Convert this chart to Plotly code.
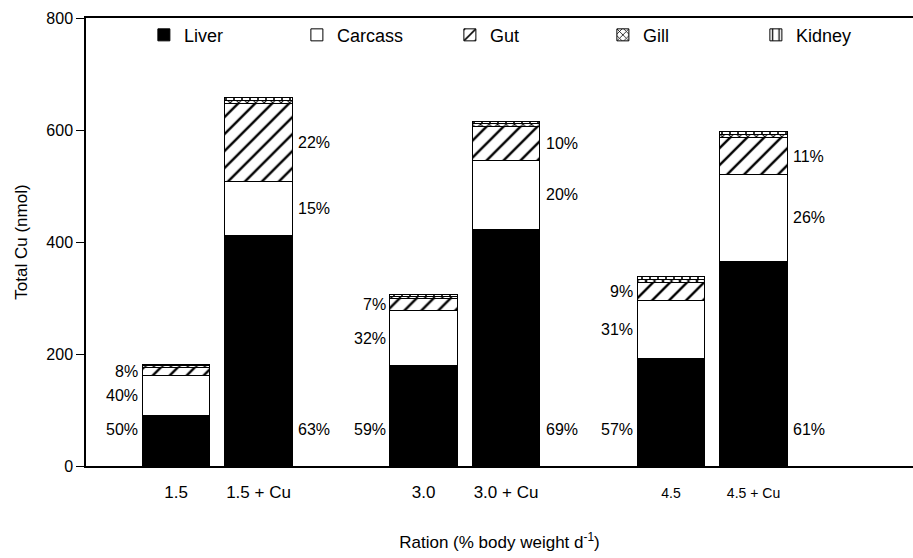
import plotly.graph_objects as go

# ---- data ----
groups = ["1.5", "3.0", "4.5"]
treatments = ["", " + Cu"]
tick_labels = ["1.5", "1.5 + Cu", "3.0", "3.0 + Cu", "4.5", "4.5 + Cu"]
liver = [90, 412, 180, 422, 192, 366]
carcass = [72, 96, 97, 124, 104, 154]
gut = [14, 140, 22, 60, 32, 66]
gill = [3, 5, 4, 5, 5, 6]
kidney = [3, 5, 4, 5, 5, 6]
pct_liver = ["50%", "63%", "59%", "69%", "57%", "61%"]
pct_carcass = ["40%", "15%", "32%", "20%", "31%", "26%"]
pct_gut = ["8%", "22%", "7%", "10%", "9%", "11%"]

FONT = "Liberation Sans, Arial, sans-serif"
# bar positions: pairs within a group, groups separated by a gap
xpos = [g * 3 + t for g in range(len(groups)) for t in range(len(treatments))]
BW = 0.82

fig = go.Figure()
series = [
    ("Liver", liver, dict(color="black", line=dict(color="black", width=1))),
    ("Carcass", carcass, dict(color="white", line=dict(color="black", width=1))),
    ("Gut", gut, dict(color="white", line=dict(color="black", width=1),
                      pattern=dict(shape="/", fgcolor="black", bgcolor="white", size=12,
                                   solidity=0.2, fgopacity=1))),
    ("Gill", gill, dict(color="white", line=dict(color="black", width=1),
                        pattern=dict(shape="x", fgcolor="black", bgcolor="white", size=6,
                                     solidity=0.3, fgopacity=1))),
    ("Kidney", kidney, dict(color="white", line=dict(color="black", width=1),
                            pattern=dict(shape="|", fgcolor="black", bgcolor="white", size=8,
                                         solidity=0.2, fgopacity=1))),
]
for name, vals, marker in series:
    fig.add_trace(go.Bar(x=xpos, y=vals, name=name, width=BW, marker=marker))

# percentage annotations
for i, x in enumerate(xpos):
    is_cu = (i % 2 == 1)
    edge = x + BW / 2 if is_cu else x - BW / 2
    anchor = "left" if is_cu else "right"
    shift = 4 if is_cu else -2
    ys = [
        (65, pct_liver[i]),
        (liver[i] + carcass[i] / 2, pct_carcass[i]),
        (liver[i] + carcass[i] + gut[i] / 2, pct_gut[i]),
    ]
    for yv, txt in ys:
        fig.add_annotation(x=edge, y=yv, text=txt, showarrow=False, xanchor=anchor,
                           xshift=shift, font=dict(family=FONT, size=16, color="black"))

ticktext = []
for i, t in enumerate(tick_labels):
    if i >= 4:
        ticktext.append(f"<span style='font-size:14px'>{t}</span>")
    else:
        ticktext.append(t)

fig.update_layout(
    barmode="stack",
    width=913, height=558,
    margin=dict(l=86, r=0, t=18, b=92),
    paper_bgcolor="white", plot_bgcolor="white",
    font=dict(family=FONT, size=16, color="black"),
    showlegend=True,
    legend=dict(orientation="h", x=0.07, y=1.003, xanchor="left", yanchor="top",
                font=dict(family=FONT, size=18), entrywidth=108, entrywidthmode="pixels",
                itemwidth=30, bgcolor="rgba(0,0,0,0)", traceorder="normal"),
    xaxis=dict(range=[-1.091, 8.933], tickvals=xpos, ticktext=ticktext, showgrid=False,
               zeroline=False, showline=True, linecolor="black", linewidth=1.5, mirror=True,
               ticks="", tickfont=dict(size=17), ticklabelstandoff=10,
               title=dict(text="Ration (% body weight d<sup>-1</sup>)", font=dict(size=17), standoff=35)),
    yaxis=dict(range=[0, 800], tickvals=[0, 200, 400, 600, 800], showgrid=False, zeroline=False,
               showline=True, linecolor="black", linewidth=1.5, ticks="outside", ticklen=8,
               tickcolor="black", tickfont=dict(size=16),
               title=dict(text="Total Cu (nmol)", font=dict(size=17), standoff=14)),
)

fig.write_html("out.html")
